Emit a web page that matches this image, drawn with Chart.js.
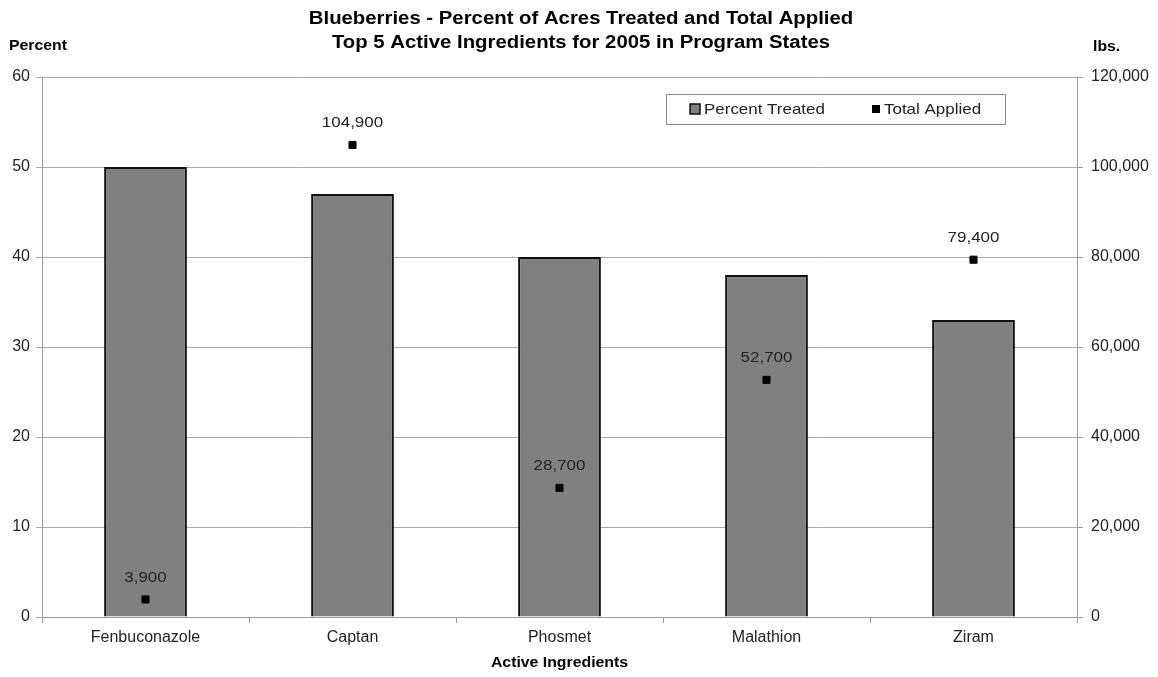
<!DOCTYPE html>
<html>
<head>
<meta charset="utf-8">
<script src="https://cdn.jsdelivr.net/npm/chart.js@4/dist/chart.umd.min.js"></script>
<style>
  body { margin: 0; background: #fff; }
  #wrap { width: 1158px; height: 677px; }
</style>
</head>
<body>
<div id="wrap"><canvas id="myChart" width="1158" height="677"></canvas></div>
<script>
// data
const ingredients = ['Fenbuconazole', 'Captan', 'Phosmet', 'Malathion', 'Ziram'];
const percentTreated = [50, 47, 40, 38, 33];
const totalApplied = [3900, 104900, 28700, 52700, 79400];
const titleLines = ['Blueberries - Percent of Acres Treated and Total Applied',
                    'Top 5 Active Ingredients for 2005 in Program States'];

const FONT = 'Liberation Sans, Arial, sans-serif';
const STRETCH = 1.13; // the original text is a bit wider than Arial

function wideText(c, text, x, y) {
  c.save();
  c.translate(x, y);
  c.scale(STRETCH, 1);
  c.fillText(text, 0, 0);
  c.restore();
}

// titles, point labels and the boxed legend inside the plot
const extras = {
  id: 'extras',
  afterDraw(chart) {
    const c = chart.ctx;
    const area = chart.chartArea;
    c.save();
    c.fillStyle = '#000';
    c.font = 'bold 18px ' + FONT;
    c.textAlign = 'center';
    c.textBaseline = 'middle';
    wideText(c, titleLines[0], 581, 19);
    wideText(c, titleLines[1], 581, 43);

    c.font = 'bold 14px ' + FONT;
    c.textAlign = 'left';
    wideText(c, 'Percent', 9, 46);
    wideText(c, 'lbs.', 1093, 47);
    c.textAlign = 'center';
    wideText(c, 'Active Ingredients', (area.left + area.right) / 2, 663);

    // values above the squares
    const meta = chart.getDatasetMeta(1);
    c.font = '15px ' + FONT;
    c.fillStyle = '#222';
    meta.data.forEach((pt, i) => {
      wideText(c, totalApplied[i].toLocaleString('en-US'), pt.x, pt.y - 22);
    });

    // legend
    const lx = 666, ly = 94, lw = 339, lh = 30;
    c.strokeStyle = '#888';
    c.lineWidth = 1;
    c.fillStyle = '#fff';
    c.fillRect(lx, ly, lw, lh);
    c.strokeRect(lx + 0.5, ly + 0.5, lw, lh);
    c.fillStyle = '#808080';
    c.fillRect(690, 104, 10, 10);
    c.strokeStyle = '#111';
    c.lineWidth = 1.5;
    c.strokeRect(690, 104, 10, 10);
    c.fillStyle = '#000';
    c.fillRect(872, 105, 8, 8);
    c.font = '15px ' + FONT;
    c.fillStyle = '#222';
    c.textAlign = 'left';
    wideText(c, chart.data.datasets[0].label, 704, 110);
    wideText(c, chart.data.datasets[1].label, 884, 110);
    c.restore();
  }
};

var ctx = document.getElementById('myChart').getContext('2d');

var myChart = new Chart(ctx, {
  type: 'bar',
  data: {
    labels: ingredients,
    datasets: [{
      label: 'Percent Treated',
      data: percentTreated,
      yAxisID: 'y',
      backgroundColor: '#808080',
      borderColor: '#111',
      borderWidth: 2,
      barPercentage: 0.4,
      categoryPercentage: 1,
      order: 2
    }, {
      type: 'line',
      label: 'Total Applied',
      data: totalApplied,
      yAxisID: 'y1',
      showLine: false,
      pointStyle: 'rect',
      pointRadius: 5,
      pointBackgroundColor: '#000',
      pointBorderColor: '#000',
      order: 1
    }]
  },
  options: {
    responsive: false,
    animation: false,
    layout: { padding: { top: 77, left: 0, right: 0, bottom: 0 } },
    plugins: {
      legend: { display: false },
      tooltip: { enabled: false }
    },
    scales: {
      x: {
        offset: true,
        grid: { drawOnChartArea: false, color: '#999', tickLength: 6 },
        border: { color: '#999' },
        ticks: { color: '#222', font: { family: FONT, size: 16 }, padding: 5 },
        afterFit: s => { s.height = 60; }
      },
      y: {
        position: 'left',
        min: 0, max: 60,
        ticks: { stepSize: 10, color: '#222', font: { family: FONT, size: 16 }, padding: 6 },
        grid: { color: '#aaa', tickLength: 6 },
        border: { color: '#999' },
        afterFit: s => { s.width = 42; }
      },
      y1: {
        position: 'right',
        min: 0, max: 120000,
        ticks: {
          stepSize: 20000, color: '#222', font: { family: FONT, size: 16 }, padding: 8,
          callback: v => v.toLocaleString('en-US')
        },
        grid: { drawOnChartArea: false, color: '#999', tickLength: 6 },
        border: { color: '#999' },
        afterFit: s => { s.width = 81; }
      }
    }
  },
  plugins: [extras]
});
</script>
</body>
</html>
